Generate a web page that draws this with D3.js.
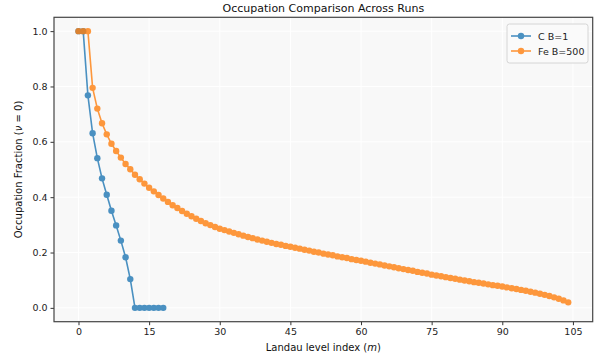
<!DOCTYPE html>
<html>
<head>
<meta charset="utf-8">
<script src="https://cdn.jsdelivr.net/npm/d3@7"></script>
<style>
  body { margin: 0; background: #fff; }
  svg { font-family: "DejaVu Sans", sans-serif; }
</style>
</head>
<body>
<svg id="chart" width="600" height="363"></svg>
<script>
// C B=1 run, levels 0..18
const cLevels = d3.range(0, 19);
const cValues = [1.0, 1.0, 0.768, 0.631, 0.541, 0.468, 0.409, 0.351, 0.298, 0.243, 0.183, 0.104,
  0, 0, 0, 0, 0, 0, 0];

// Fe B=500 run, levels 0..104
const feLevels = d3.range(0, 105);
const feValues = [
  1.0, 1.0, 1.0, 0.795, 0.72, 0.667, 0.627, 0.593, 0.567, 0.543,
  0.520, 0.501, 0.481, 0.465, 0.449, 0.434, 0.421, 0.408, 0.395, 0.383,
  0.371, 0.361, 0.350, 0.340, 0.331, 0.322, 0.314, 0.306, 0.299, 0.292,
  0.286, 0.281, 0.276, 0.271, 0.266, 0.261, 0.256, 0.252, 0.247, 0.243,
  0.239, 0.235, 0.231, 0.228, 0.224, 0.221, 0.217, 0.214, 0.210, 0.207,
  0.203, 0.200, 0.196, 0.193, 0.190, 0.186, 0.183, 0.180, 0.176, 0.173,
  0.170, 0.167, 0.163, 0.160, 0.157, 0.153, 0.150, 0.147, 0.143, 0.140,
  0.137, 0.134, 0.130, 0.127, 0.124, 0.120, 0.117, 0.114, 0.111, 0.108,
  0.105, 0.102, 0.099, 0.096, 0.093, 0.091, 0.088, 0.085, 0.082, 0.080,
  0.077, 0.074, 0.071, 0.068, 0.065, 0.062, 0.058, 0.055, 0.051, 0.047,
  0.043, 0.038, 0.033, 0.027, 0.020
];

const xTicks = [0, 15, 30, 45, 60, 75, 90, 105];
const yTicks = [0.0, 0.2, 0.4, 0.6, 0.8, 1.0];

const series = [
  { name: "C B=1", levels: cLevels, values: cValues, color: "#1f77b4" },
  { name: "Fe B=500", levels: feLevels, values: feValues, color: "#ff7f0e" }
];

const plotL = 54, plotR = 592.7, plotT = 17.3, plotB = 321.7;
const svg = d3.select("#chart");

const x = d3.scaleLinear().domain([-5.2, 109.2]).range([plotL, plotR]);
const y = d3.scaleLinear().domain([-0.05, 1.05]).range([plotB, plotT]);

// plot background
svg.append("rect")
  .attr("x", plotL).attr("y", plotT)
  .attr("width", plotR - plotL).attr("height", plotB - plotT)
  .attr("fill", "#f8f8f8");

// grid
const grid = svg.append("g");
grid.selectAll(".gx").data(xTicks).enter().append("line")
  .attr("x1", d => x(d)).attr("x2", d => x(d))
  .attr("y1", plotT).attr("y2", plotB)
  .attr("stroke", "#fff").attr("stroke-width", 1);
grid.selectAll(".gy").data(yTicks).enter().append("line")
  .attr("x1", plotL).attr("x2", plotR)
  .attr("y1", d => y(d)).attr("y2", d => y(d))
  .attr("stroke", "#fff").attr("stroke-width", 1);

// series
const line = d3.line().x(d => x(d[0])).y(d => y(d[1]));
series.forEach(s => {
  const pts = s.levels.map((l, i) => [l, s.values[i]]);
  const g = svg.append("g").attr("opacity", 0.8);
  g.append("path")
    .attr("d", line(pts))
    .attr("fill", "none")
    .attr("stroke", s.color)
    .attr("stroke-width", 1.6);
  g.selectAll("circle").data(pts).enter().append("circle")
    .attr("cx", d => x(d[0])).attr("cy", d => y(d[1]))
    .attr("r", 3.2)
    .attr("fill", s.color);
});

// axes
const xAxis = svg.append("g")
  .attr("transform", `translate(0,${plotB})`)
  .call(d3.axisBottom(x).tickValues(xTicks).tickSize(3.5).tickPadding(3).tickFormat(d3.format("d")));
const yAxis = svg.append("g")
  .attr("transform", `translate(${plotL},0)`)
  .call(d3.axisLeft(y).tickValues(yTicks).tickSize(3.5).tickPadding(3).tickFormat(d3.format(".1f")));
[xAxis, yAxis].forEach(a => {
  a.select(".domain").remove();
  a.selectAll("text").attr("font-size", 9.5).attr("fill", "#222").attr("font-family", "DejaVu Sans");
  a.selectAll("line").attr("stroke", "#333");
});

// spines
svg.append("rect")
  .attr("x", plotL).attr("y", plotT)
  .attr("width", plotR - plotL).attr("height", plotB - plotT)
  .attr("fill", "none").attr("stroke", "#444").attr("stroke-width", 1.2);

// title and labels
svg.append("text")
  .attr("x", (plotL + plotR) / 2).attr("y", 12)
  .attr("text-anchor", "middle").attr("font-size", 11).attr("fill", "#111")
  .text("Occupation Comparison Across Runs");

const xl = svg.append("text")
  .attr("x", (plotL + plotR) / 2).attr("y", 351)
  .attr("text-anchor", "middle").attr("font-size", 10).attr("fill", "#111");
xl.append("tspan").text("Landau level index (");
xl.append("tspan").attr("font-style", "italic").text("m");
xl.append("tspan").text(")");

const yl = svg.append("text")
  .attr("transform", `translate(22,${(plotT + plotB) / 2}) rotate(-90)`)
  .attr("text-anchor", "middle").attr("font-size", 10).attr("fill", "#111");
yl.append("tspan").text("Occupation Fraction (");
yl.append("tspan").attr("font-style", "italic").text("ν");
yl.append("tspan").text(" = 0)");

// legend
const lg = svg.append("g").attr("transform", "translate(507,24)");
lg.append("rect")
  .attr("width", 81).attr("height", 39).attr("rx", 2.5)
  .attr("fill", "#fafafa").attr("stroke", "#ccc").attr("stroke-width", 0.8);
series.forEach((s, i) => {
  const yy = 12 + i * 15;
  const e = lg.append("g").attr("opacity", 0.8);
  e.append("line").attr("x1", 4).attr("x2", 24).attr("y1", yy).attr("y2", yy)
    .attr("stroke", s.color).attr("stroke-width", 1.6);
  e.append("circle").attr("cx", 14).attr("cy", yy).attr("r", 3.2).attr("fill", s.color);
  lg.append("text").attr("x", 31).attr("y", yy + 3.5)
    .attr("font-size", 9.5).attr("fill", "#222").text(s.name);
});
</script>
</body>
</html>
